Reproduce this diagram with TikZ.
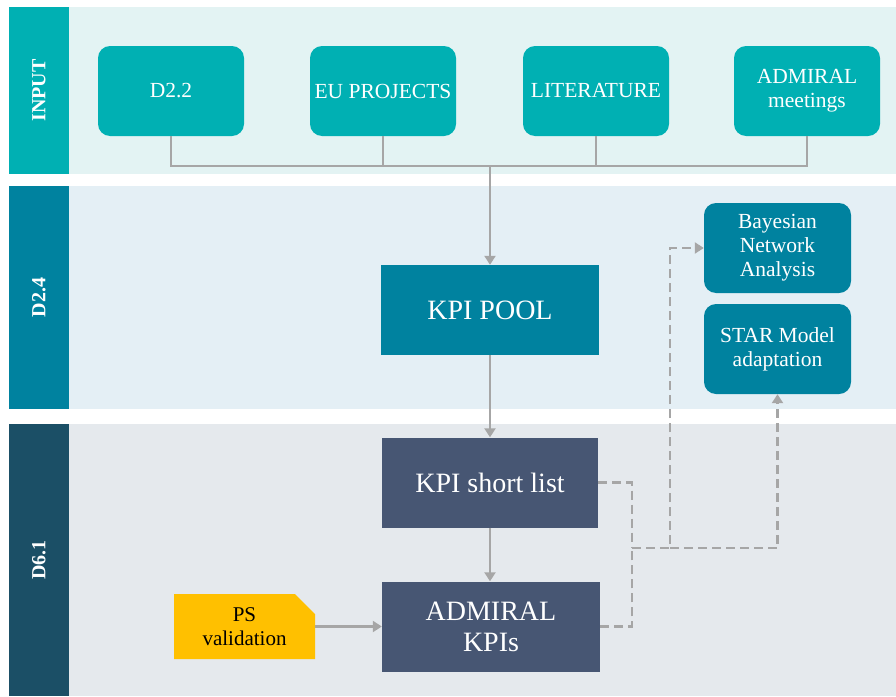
\documentclass[tikz,border=0pt]{standalone}
\usepackage{fontspec}
\setmainfont{Liberation Serif}
\usetikzlibrary{arrows.meta,shapes.misc}
\definecolor{tealA}{HTML}{00B0B3}
\definecolor{tealB}{HTML}{00829F}
\definecolor{navyC}{HTML}{1B4F66}
\definecolor{slateD}{HTML}{475673}
\definecolor{bgA}{HTML}{E3F3F3}
\definecolor{bgB}{HTML}{E4EFF5}
\definecolor{bgC}{HTML}{E5E9ED}
\definecolor{psyellow}{HTML}{FFC000}
\definecolor{conngrey}{HTML}{A6A6A6}
\tikzset{
  inbox/.style={rounded corners=12pt, fill=tealA, text=white, minimum width=146pt, minimum height=90pt, align=center, font=\fontsize{21.5}{24}\selectfont, inner sep=2pt},
  bluebox/.style={rounded corners=12pt, fill=tealB, text=white, minimum width=147pt, minimum height=90pt, align=center, font=\fontsize{21.5}{24}\selectfont, inner sep=2pt},
  poolbox/.style={fill=tealB, text=white, minimum width=218pt, minimum height=90pt, align=center, font=\fontsize{28}{31}\selectfont},
  darkbox/.style={fill=slateD, text=white, minimum width=216pt, minimum height=90pt, align=center, font=\fontsize{28}{31}\selectfont},
  psbox/.style={chamfered rectangle, chamfered rectangle corners=north east, chamfered rectangle xsep=10pt, chamfered rectangle ysep=10pt, fill=psyellow, text=black, minimum width=141pt, minimum height=65pt, align=center, font=\fontsize{21}{24}\selectfont},
  striplabel/.style={text=white, rotate=90, font=\bfseries\fontsize{20}{24}\selectfont},
  conn/.style={draw=conngrey, line width=2.2pt},
  arr/.style={conn, -{Triangle[width=11pt,length=9pt]}},
  dconn/.style={draw=conngrey, line width=2.2pt, dash pattern=on 9pt off 5pt},
  darr/.style={dconn, -{Triangle[width=11pt,length=9pt]}}
}
\begin{document}
\begin{tikzpicture}[x=1pt,y=-1pt]
\useasboundingbox (0,0) rectangle (896,696);
\fill[white] (0,0) rectangle (896,696);
% bands
\fill[bgA] (69,7) rectangle (896,174);
\fill[tealA] (9,7) rectangle (69,174);
\fill[bgB] (69,186) rectangle (896,409);
\fill[tealB] (9,186) rectangle (69,409);
\fill[bgC] (69,424) rectangle (896,696);
\fill[navyC] (9,424) rectangle (69,696);
\node[striplabel] (lin) at (39,90.5) {INPUT};
\node[striplabel] (ld24) at (39,297.5) {D2.4};
\node[striplabel] (ld61) at (39,560) {D6.1};
% input boxes
\node[inbox] (d22) at (171,91) {D2.2};
\node[inbox] (eu) at (383,91) {EU PROJECTS};
\node[inbox] (lit) at (596,91) {LITERATURE};
\node[inbox] (adm) at (807,91) {ADMIRAL\\meetings};
% main boxes
\node[poolbox] (pool) at (490,310) {KPI POOL};
\node[darkbox] (short) at (490,482.5) {KPI short list};
\node[darkbox, minimum width=218pt] (kpis) at (491,626.5) {ADMIRAL\\KPIs};
\node[psbox] (ps) at (244.5,626.5) {PS\\validation};
\node[bluebox] (bayes) at (777.5,248) {Bayesian\\Network\\Analysis};
\node[bluebox] (star) at (777.5,349) {STAR Model\\adaptation};
% input connectors
\coordinate (j) at (490,166);
\draw[conn] (d22.south) |- (j) -| (adm.south);
\draw[conn] (eu.south) -- (eu.south |- j);
\draw[conn] (lit.south) -- (lit.south |- j);
\draw[arr] (j) -- (pool.north);
\draw[arr] (pool.south) -- (short.north);
\draw[arr] (short.south) -- (short.south |- kpis.north);
\draw[arr] (ps.east) -- (kpis.west);
% dashed connectors
\coordinate (m) at (632,548);
\coordinate (b) at (670,548);
\draw[dconn] (short.east) -| (m);
\draw[dconn] (kpis.east) -| (m);
\draw[darr] (m) -- (b) |- (bayes.west);
\draw[darr] (b) -| (star.south);
\end{tikzpicture}
\end{document}
